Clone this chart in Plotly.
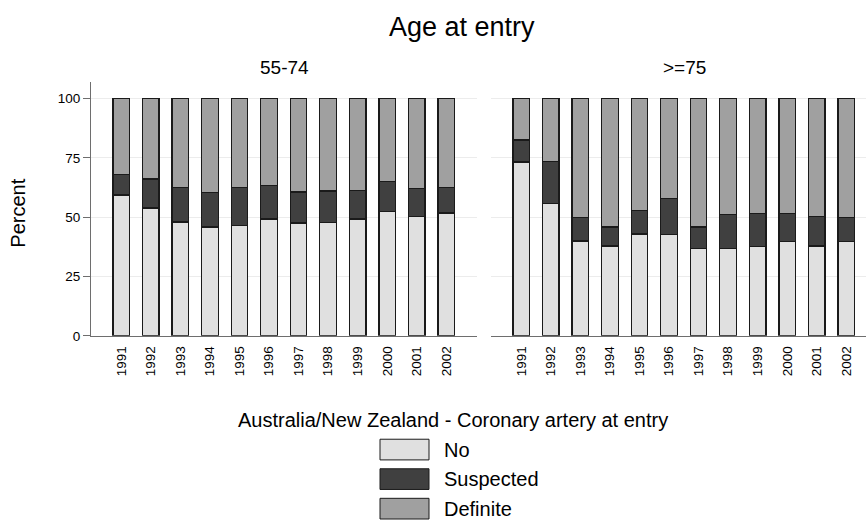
import plotly.graph_objects as go

# ---- data ----
years = ["1991", "1992", "1993", "1994", "1995", "1996",
         "1997", "1998", "1999", "2000", "2001", "2002"]
series_names = ["No", "Suspected", "Definite"]
series_colors = ["#e0e0e0", "#404040", "#a0a0a0"]

# Age 55-74 (percent)
young_no = [59.3, 53.8, 47.9, 45.8, 46.4, 49.2, 47.5, 47.8, 49.2, 52.4, 50.4, 51.7]
young_suspected = [8.7, 12.3, 14.7, 14.5, 16.1, 14.1, 13.1, 13.2, 12.0, 12.7, 11.7, 10.8]
young_definite = [32.0, 33.9, 37.4, 39.7, 37.5, 36.7, 39.4, 39.0, 38.8, 34.9, 37.9, 37.5]

# Age >=75 (percent)
old_no = [73.2, 55.8, 40.0, 37.9, 42.9, 42.6, 36.7, 36.7, 37.6, 39.7, 37.9, 39.7]
old_suspected = [9.3, 17.7, 10.0, 7.9, 10.0, 15.3, 9.1, 14.3, 13.9, 11.8, 12.4, 10.2]
old_definite = [17.5, 26.5, 50.0, 54.2, 47.1, 42.1, 54.2, 49.0, 48.5, 48.5, 49.7, 50.1]

panel_titles = ["55-74", ">=75"]
y_ticks = [0, 25, 50, 75, 100]
legend_title = "Australia/New Zealand - Coronary artery at entry"

W, H = 866, 527
FONT = "Arial, Liberation Sans, sans-serif"

fig = go.Figure()
panels = [
    ("x", "y", [young_no, young_suspected, young_definite]),
    ("x2", "y2", [old_no, old_suspected, old_definite]),
]
for xa, ya, vals in panels:
    for name, color, v in zip(series_names, series_colors, vals):
        fig.add_trace(go.Bar(
            x=years, y=v, name=name, xaxis=xa, yaxis=ya,
            width=0.56, showlegend=False,
            marker=dict(color=color, line=dict(color="#1a1a1a", width=1.3)),
        ))

def px_x(p):
    return p / W

def px_y(p):
    return (H - p) / H

ydom = [px_y(341), px_y(83)]
yrange = [0, 107.05]
axis_gray = "#6e6e6e"
grid = "#ececec"

fig.update_layout(
    width=W, height=H,
    barmode="stack",
    margin=dict(l=0, r=0, t=0, b=0),
    paper_bgcolor="white", plot_bgcolor="white",
    font=dict(family=FONT, color="black"),
    showlegend=False,
    xaxis=dict(domain=[px_x(91), px_x(477)], type="category",
               range=[-1.026, 12.04], anchor="y",
               showline=True, linecolor=axis_gray, linewidth=1,
               ticks="", tickangle=-90, tickfont=dict(size=13.5),
               showgrid=False, zeroline=False, ticklabelstandoff=4),
    xaxis2=dict(domain=[px_x(491), 1.0], type="category",
                range=[-1.026, 11.67], anchor="y2",
                showline=True, linecolor=axis_gray, linewidth=1,
                ticks="", tickangle=-90, tickfont=dict(size=13.5),
                showgrid=False, zeroline=False, ticklabelstandoff=4),
    yaxis=dict(domain=ydom, range=yrange, anchor="x",
               tickvals=y_ticks, tickfont=dict(size=13.5),
               showline=True, linecolor=axis_gray, linewidth=1,
               ticks="outside", ticklen=7, tickcolor=axis_gray,
               showgrid=True, gridcolor=grid, gridwidth=1, zeroline=False),
    yaxis2=dict(domain=ydom, range=yrange, anchor="x2",
                tickvals=y_ticks, showticklabels=False,
                showline=False, ticks="",
                showgrid=True, gridcolor=grid, gridwidth=1, zeroline=False),
)

annotations = [
    dict(text="Age at entry", x=px_x(462), y=px_y(27), xref="paper", yref="paper",
         showarrow=False, xanchor="center", yanchor="middle", font=dict(size=27)),
    dict(text=panel_titles[0], x=px_x(284), y=px_y(69), xref="paper", yref="paper",
         showarrow=False, xanchor="center", yanchor="middle", font=dict(size=19)),
    dict(text=panel_titles[1], x=px_x(684), y=px_y(69), xref="paper", yref="paper",
         showarrow=False, xanchor="center", yanchor="middle", font=dict(size=19)),
    dict(text="Percent", x=px_x(18), y=px_y(217), xref="paper", yref="paper",
         showarrow=False, xanchor="center", yanchor="middle", textangle=-90,
         font=dict(size=20)),
    dict(text=legend_title, x=px_x(453), y=px_y(426), xref="paper", yref="paper",
         showarrow=False, xanchor="center", yanchor="middle", font=dict(size=20)),
]
shapes = []
for i, (name, color) in enumerate(zip(series_names, series_colors)):
    top = 446 + 30 * i
    shapes.append(dict(type="rect", xref="paper", yref="paper",
                       x0=px_x(380), x1=px_x(429), y0=px_y(top + 21), y1=px_y(top),
                       fillcolor=color, line=dict(color="#1a1a1a", width=1)))
    annotations.append(dict(text=name, x=px_x(442), y=px_y(top + 10.5),
                            xref="paper", yref="paper", showarrow=False,
                            xanchor="left", yanchor="middle", font=dict(size=20)))

fig.update_layout(annotations=annotations, shapes=shapes)
fig.write_html(
    "out.html",
    config={"displayModeBar": False},
    post_script="document.body.style.margin='0';document.body.style.overflow='hidden';",
)
